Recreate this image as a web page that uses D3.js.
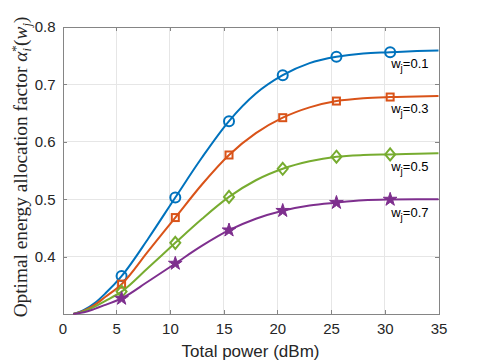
<!DOCTYPE html>
<html>
<head>
<meta charset="utf-8">
<script src="https://cdn.jsdelivr.net/npm/d3@7"></script>
<style>
  body { margin: 0; background: #fff; }
  svg { display: block; }
</style>
</head>
<body>
<svg id="canvas"></svg>
<script>
// total power samples (dBm)
const power = [1, 2, 3, 4, 5.5, 8, 10.5, 13, 15.5, 18, 20.5, 23, 25.5, 28, 30.5, 33, 35];
const markerPower = [5.5, 10.5, 15.5, 20.5, 25.5, 30.5];

// optimal energy allocation factor, one array per w_j
const alpha01 = [0.300, 0.307, 0.319, 0.336, 0.366, 0.432, 0.503, 0.573, 0.636, 0.684, 0.716, 0.737, 0.748, 0.754, 0.756, 0.758, 0.759];
const alpha03 = [0.300, 0.306, 0.316, 0.330, 0.352, 0.410, 0.468, 0.526, 0.577, 0.615, 0.642, 0.660, 0.671, 0.676, 0.678, 0.679, 0.680];
const alpha05 = [0.300, 0.305, 0.313, 0.323, 0.339, 0.381, 0.424, 0.466, 0.504, 0.533, 0.553, 0.566, 0.574, 0.577, 0.578, 0.579, 0.580];
const alpha07 = [0.300, 0.303, 0.309, 0.316, 0.327, 0.357, 0.388, 0.419, 0.446, 0.466, 0.480, 0.489, 0.494, 0.498, 0.4995, 0.500, 0.500];

const seriesLabels = ["0.1", "0.3", "0.5", "0.7"];
const xTicks = [0, 5, 10, 15, 20, 25, 30, 35];
const yTicks = [0.4, 0.5, 0.6, 0.7, 0.8];

const width = 485;
const height = 363;
const margin = { top: 27, right: 46.5, bottom: 49, left: 62.5 };
const chartWidth = width - margin.left - margin.right;
const chartHeight = height - margin.top - margin.bottom;

const colors = ["#0072BD", "#D95319", "#77AC30", "#7E2F8E"];
const shapes = ["circle", "square", "diamond", "star"];

const svg = d3.select("#canvas")
  .attr("width", width)
  .attr("height", height);

const chartArea = svg.append("g")
  .attr("transform", `translate(${margin.left},${margin.top})`);

const x = d3.scaleLinear().domain([0, 35]).range([0, chartWidth]);
const y = d3.scaleLinear().domain([0.3, 0.8]).range([chartHeight, 0]);

// grid
chartArea.append("g")
  .selectAll("line")
  .data(xTicks.slice(1, -1))
  .enter().append("line")
    .attr("x1", d => x(d)).attr("x2", d => x(d))
    .attr("y1", 0).attr("y2", chartHeight)
    .attr("stroke", "#e6e6e6")
    .attr("shape-rendering", "crispEdges");

chartArea.append("g")
  .selectAll("line")
  .data(yTicks.slice(0, -1))
  .enter().append("line")
    .attr("x1", 0).attr("x2", chartWidth)
    .attr("y1", d => y(d)).attr("y2", d => y(d))
    .attr("stroke", "#e6e6e6")
    .attr("shape-rendering", "crispEdges");

// axes, ticks inward on all four sides
const tickLen = 4;
const xAxis = d3.axisBottom(x).tickValues(xTicks).tickSize(-tickLen).tickPadding(9).tickFormat(d3.format("d"));
const yAxis = d3.axisLeft(y).tickValues(yTicks).tickSize(-tickLen).tickPadding(7).tickFormat(d3.format(".1f"));
const xTop = d3.axisTop(x).tickValues(xTicks).tickSize(-tickLen).tickFormat("");
const yRight = d3.axisRight(y).tickValues(yTicks).tickSize(-tickLen).tickFormat("");

function styleAxis(g) {
  g.selectAll("path, line").attr("stroke", "#858585").attr("shape-rendering", "crispEdges");
  g.selectAll("text").attr("fill", "#262626")
    .style("font-family", "'Liberation Sans', Arial, sans-serif")
    .style("font-size", "15px");
}

chartArea.append("g")
  .attr("transform", `translate(0, ${chartHeight})`)
  .call(xAxis).call(styleAxis);
chartArea.append("g").call(yAxis).call(styleAxis);
chartArea.append("g").call(xTop).call(styleAxis);
chartArea.append("g")
  .attr("transform", `translate(${chartWidth}, 0)`)
  .call(yRight).call(styleAxis);

// curves
const allSeries = [alpha01, alpha03, alpha05, alpha07];
const line = d3.line()
  .x(d => x(d[0]))
  .y(d => y(d[1]))
  .curve(d3.curveMonotoneX);

allSeries.forEach((vals, i) => {
  const pts = power.map((p, k) => [p, vals[k]]);
  chartArea.append("path")
    .attr("d", line(pts))
    .attr("fill", "none")
    .attr("stroke", colors[i])
    .attr("stroke-width", 2);

  const marks = pts.filter(d => markerPower.includes(d[0]));
  const g = chartArea.append("g")
    .attr("fill", "none")
    .attr("stroke", colors[i])
    .attr("stroke-width", 2);

  if (shapes[i] === "circle") {
    g.selectAll("circle").data(marks).enter().append("circle")
      .attr("cx", d => x(d[0])).attr("cy", d => y(d[1])).attr("r", 5);
  } else if (shapes[i] === "square") {
    g.selectAll("rect").data(marks).enter().append("rect")
      .attr("x", d => x(d[0]) - 3.5).attr("y", d => y(d[1]) - 3.5)
      .attr("width", 7).attr("height", 7);
  } else if (shapes[i] === "diamond") {
    g.selectAll("path").data(marks).enter().append("path")
      .attr("d", d => {
        const cx = x(d[0]), cy = y(d[1]);
        return `M${cx},${cy - 6}L${cx + 5},${cy}L${cx},${cy + 6}L${cx - 5},${cy}Z`;
      });
  } else {
    g.attr("fill", colors[i]).attr("stroke-width", 1);
    g.selectAll("path").data(marks).enter().append("path")
      .attr("transform", d => `translate(${x(d[0])},${y(d[1])})`)
      .attr("d", d3.symbol().type(d3.symbolStar).size(58));
  }

  // series label under the right end of the curve
  const lab = chartArea.append("text")
    .attr("x", x(30.6))
    .attr("y", y(vals[vals.length - 1]) + 17.5)
    .attr("fill", "#000")
    .attr("font-family", "Liberation Sans, Arial, sans-serif")
    .attr("font-size", 13);
  lab.append("tspan").text("w");
  lab.append("tspan").attr("dy", 4).attr("font-size", 10).text("j");
  lab.append("tspan").attr("dy", -4).text("=" + seriesLabels[i]);
});

// axis labels
svg.append("text")
  .attr("x", margin.left + chartWidth / 2)
  .attr("y", 357)
  .attr("text-anchor", "middle")
  .attr("fill", "#262626")
  .attr("font-family", "Liberation Sans, Arial, sans-serif")
  .attr("font-size", 17)
  .text("Total power (dBm)");

const yl = svg.append("text")
  .attr("transform", "translate(27, 167) rotate(-90)")
  .attr("text-anchor", "middle")
  .attr("fill", "#262626")
  .attr("font-family", "Liberation Serif, Times New Roman, serif")
  .attr("font-size", 19.3);
yl.append("tspan").text("Optimal energy allocation factor ");
yl.append("tspan").attr("font-style", "italic").text("α");
yl.append("tspan").attr("dy", -7).attr("font-size", 12.5).text("*");
yl.append("tspan").attr("dx", -6).attr("dy", 11).attr("font-size", 12.5).attr("font-style", "italic").text("i");
yl.append("tspan").attr("dx", 2).attr("dy", -4).text("(");
yl.append("tspan").attr("font-style", "italic").text("w");
yl.append("tspan").attr("dy", 4).attr("font-size", 12.5).attr("font-style", "italic").text("j");
yl.append("tspan").attr("dy", -4).text(")");
</script>
</body>
</html>
